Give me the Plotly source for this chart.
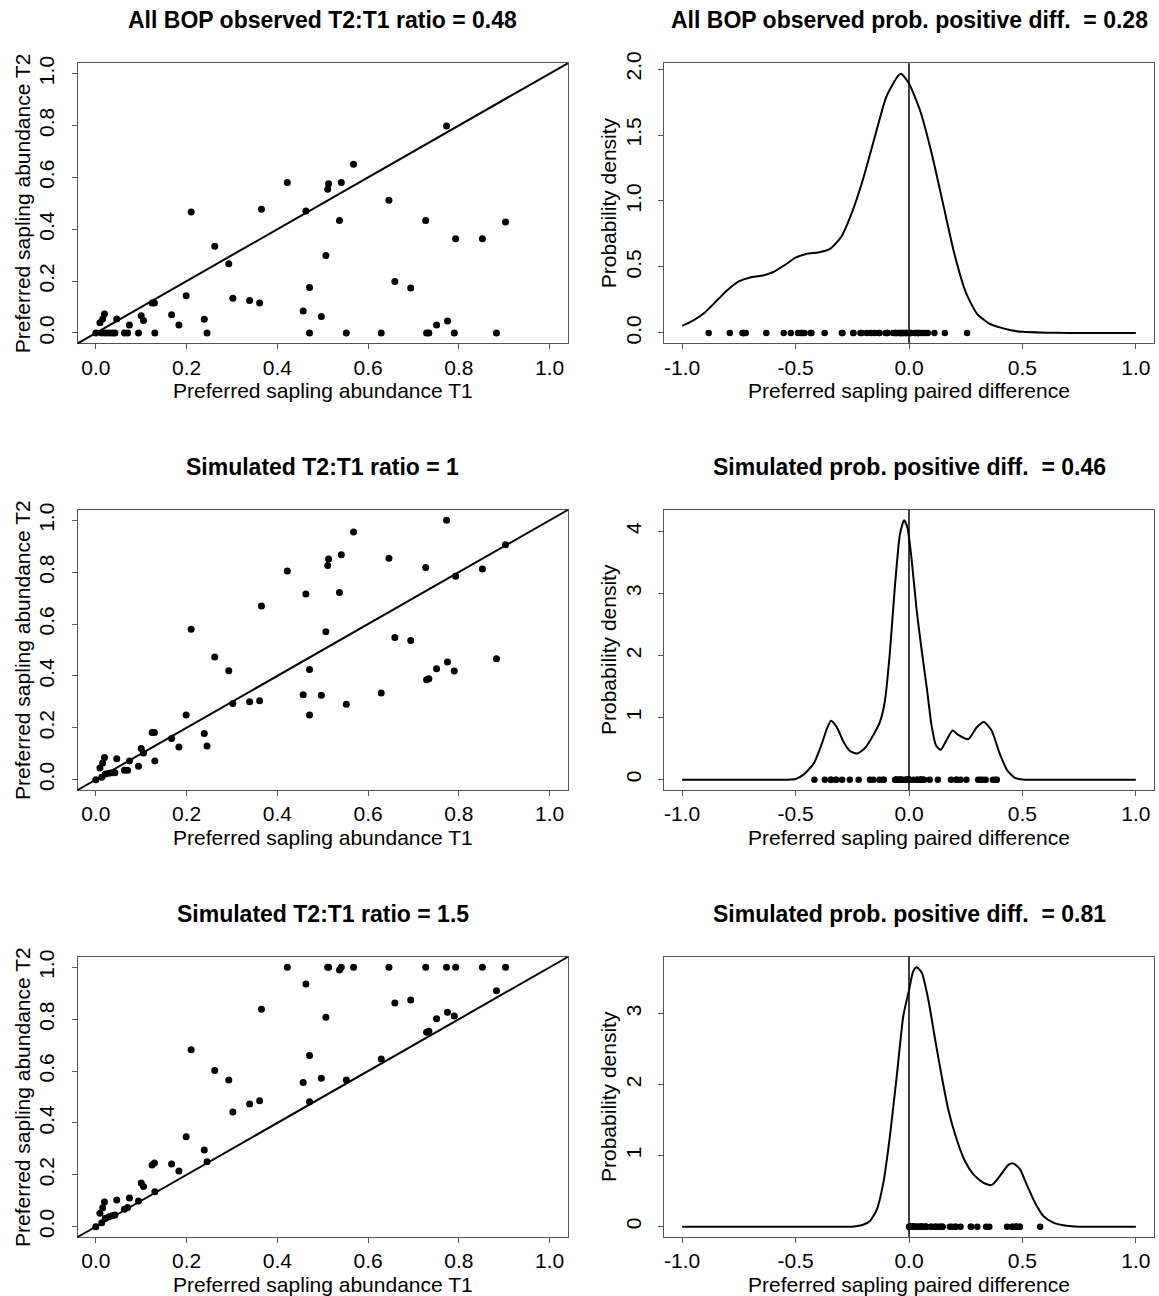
import plotly.graph_objects as go

W, H = 1159, 1296

# ---------------- data ----------------
t1 = [0.773, 0.568, 0.422, 0.541, 0.513, 0.511, 0.365, 0.210, 0.463, 0.646,
      0.727, 0.537, 0.903, 0.793, 0.852, 0.262, 0.507, 0.293, 0.659, 0.471,
      0.694, 0.199, 0.302, 0.339, 0.361, 0.124, 0.129, 0.457, 0.167, 0.497,
      0.239, 0.775, 0.183, 0.751, 0.074, 0.100, 0.105, 0.046, 0.019, 0.015,
      0.009,
      0.000, 0.013, 0.021, 0.029, 0.036, 0.042, 0.063, 0.070, 0.094, 0.130,
      0.245, 0.471, 0.552, 0.629, 0.729, 0.734, 0.790, 0.883]

t2_observed = [0.798, 0.651, 0.580, 0.580, 0.575, 0.554, 0.477, 0.466, 0.470, 0.512,
               0.434, 0.434, 0.428, 0.363, 0.363, 0.334, 0.299, 0.267, 0.198, 0.175,
               0.173, 0.143, 0.134, 0.125, 0.115, 0.115, 0.115, 0.085, 0.070, 0.063,
               0.053, 0.046, 0.031, 0.031, 0.031, 0.066, 0.048, 0.054, 0.073, 0.054,
               0.039,
               0, 0, 0, 0, 0, 0, 0, 0, 0, 0, 0, 0, 0, 0, 0, 0, 0, 0]

t2_sim_ratio1 = [1.000, 0.955, 0.805, 0.867, 0.851, 0.826, 0.670, 0.580, 0.716, 0.854,
                 0.818, 0.722, 0.906, 0.784, 0.812, 0.473, 0.570, 0.420, 0.548, 0.425,
                 0.537, 0.249, 0.294, 0.300, 0.304, 0.182, 0.182, 0.327, 0.159, 0.325,
                 0.178, 0.454, 0.126, 0.428, 0.072, 0.120, 0.103, 0.081, 0.085, 0.064,
                 0.045,
                 0.000, 0.009, 0.022, 0.025, 0.027, 0.027, 0.036, 0.036, 0.052, 0.072,
                 0.130, 0.249, 0.291, 0.334, 0.385, 0.389, 0.419, 0.466]

t2_sim_ratio15 = [1.000, 1.000, 1.000, 1.000, 1.000, 1.000, 0.838, 0.682, 0.936, 1.000,
                  1.000, 0.990, 1.000, 1.000, 1.000, 0.602, 0.808, 0.566, 0.863, 0.660,
                  0.874, 0.347, 0.442, 0.473, 0.486, 0.238, 0.245, 0.556, 0.242, 0.572,
                  0.296, 0.827, 0.215, 0.802, 0.110, 0.168, 0.155, 0.103, 0.095, 0.073,
                  0.052,
                  0.000, 0.015, 0.032, 0.038, 0.042, 0.045, 0.067, 0.074, 0.099, 0.135,
                  0.250, 0.482, 0.566, 0.647, 0.750, 0.754, 0.812, 0.910]

# density curves
dens1_x = [-1.0, -0.95, -0.9, -0.85, -0.8, -0.75, -0.7, -0.65, -0.6, -0.55, -0.5,
           -0.45, -0.4, -0.35, -0.3, -0.25, -0.2, -0.15, -0.1, -0.05, -0.035, 0.0,
           0.05, 0.1, 0.15, 0.2, 0.25, 0.3, 0.35, 0.4, 0.45, 0.5, 0.6, 0.7, 0.85, 1.0]
dens1_y = [0.053, 0.095, 0.155, 0.24, 0.325, 0.39, 0.42, 0.433, 0.46, 0.512, 0.57,
           0.60, 0.61, 0.635, 0.725, 0.92, 1.18, 1.49, 1.79, 1.945, 1.965, 1.89,
           1.68, 1.36, 0.98, 0.60, 0.31, 0.145, 0.075, 0.042, 0.02, 0.008, 0.002, 0.0, 0.0, 0.0]

dens2_x = [-1.0, -0.8, -0.6, -0.53, -0.5, -0.465, -0.42, -0.385, -0.363, -0.344,
           -0.319, -0.289, -0.26, -0.228, -0.194, -0.157, -0.128, -0.106, -0.084,
           -0.062, -0.04, -0.022, -0.007, 0.012, 0.034, 0.056, 0.078, 0.1, 0.119,
           0.14, 0.166, 0.192, 0.217, 0.261, 0.298, 0.33, 0.364, 0.4, 0.433, 0.467,
           0.5, 0.55, 0.7, 0.85, 1.0]
dens2_y = [0.0, 0.0, 0.0, 0.0, 0.01, 0.08, 0.26, 0.57, 0.81, 0.95,
           0.85, 0.61, 0.46, 0.42, 0.51, 0.72, 0.93, 1.27, 2.06,
           3.12, 3.95, 4.176, 4.06, 3.53, 2.72, 2.08, 1.49, 0.86, 0.55,
           0.48, 0.64, 0.79, 0.72, 0.65, 0.84, 0.93, 0.79, 0.42, 0.15, 0.03,
           0.003, 0.0, 0.0, 0.0, 0.0]

dens3_x = [-1.0, -0.8, -0.6, -0.4, -0.25, -0.2, -0.172, -0.142, -0.113, -0.084,
           -0.054, -0.025, 0.0, 0.019, 0.034, 0.056, 0.085, 0.115, 0.144, 0.173,
           0.21, 0.247, 0.283, 0.327, 0.364, 0.4, 0.438, 0.46, 0.489, 0.518,
           0.555, 0.592, 0.636, 0.68, 0.717, 0.75, 0.85, 1.0]
dens3_y = [0.0, 0.0, 0.0, 0.0, 0.0, 0.03, 0.08, 0.24, 0.62, 1.28,
           2.12, 2.97, 3.33, 3.60, 3.652, 3.58, 3.2, 2.64, 2.12, 1.65,
           1.23, 0.92, 0.74, 0.62, 0.585, 0.71, 0.87, 0.89, 0.81, 0.6,
           0.34, 0.15, 0.056, 0.019, 0.005, 0.0, 0.0, 0.0]

left_titles = ["All BOP observed T2:T1 ratio = 0.48",
               "Simulated T2:T1 ratio = 1",
               "Simulated T2:T1 ratio = 1.5"]
right_titles = ["All BOP observed prob. positive diff.  = 0.28",
                "Simulated prob. positive diff.  = 0.46",
                "Simulated prob. positive diff.  = 0.81"]

left_ticks = [0.0, 0.2, 0.4, 0.6, 0.8, 1.0]
left_ticktext = ["0.0", "0.2", "0.4", "0.6", "0.8", "1.0"]
diff_ticks = [-1.0, -0.5, 0.0, 0.5, 1.0]
diff_ticktext = ["-1.0", "-0.5", "0.0", "0.5", "1.0"]
dens_yticks = [[0.0, 0.5, 1.0, 1.5, 2.0], [0, 1, 2, 3, 4], [0, 1, 2, 3]]
dens_yticktext = [["0.0", "0.5", "1.0", "1.5", "2.0"], ["0", "1", "2", "3", "4"], ["0", "1", "2", "3"]]

xlab_left = "Preferred sapling abundance T1"
ylab_left = "Preferred sapling abundance T2"
xlab_right = "Preferred sapling paired difference"
ylab_right = "Probability density"

t2_sets = [t2_observed, t2_sim_ratio1, t2_sim_ratio15]
dens_sets = [(dens1_x, dens1_y), (dens2_x, dens2_y), (dens3_x, dens3_y)]

# ---------------- layout geometry (pixels) ----------------
FONT = "Liberation Sans, Arial, sans-serif"
LBOX = (77.7, 567.7)
RBOX = (664.0, 1154.0)
ROW_TOP = [63.3, 510.0, 957.0]
BOX_H = 280.0
ROW_STEP = 447.0


def pxx(p):
    return p / W


def pxy(p):
    return 1 - p / H


fig = go.Figure()
layout = dict(
    width=W, height=H,
    margin=dict(l=0, r=0, t=0, b=0, pad=0, autoexpand=False),
    paper_bgcolor="white", plot_bgcolor="white",
    showlegend=False,
    font=dict(family=FONT, size=21, color="black"),
)

axis_common = dict(
    showline=True, mirror=True, linecolor="#555555", linewidth=1,
    ticks="outside", ticklen=5, tickcolor="#555555", tickwidth=1,
    showgrid=False, zeroline=False, automargin=False,
    tickfont=dict(family=FONT, size=21, color="black"),
)

annotations = []
shapes = []

for r in range(3):
    top = ROW_TOP[r]
    ydom = [pxy(top + BOX_H), pxy(top)]
    li = 2 * r + 1
    ri = 2 * r + 2
    lx = "x" if li == 1 else f"x{li}"
    ly = "y" if li == 1 else f"y{li}"
    rx = f"x{ri}"
    ry = f"y{ri}"

    # ---- left scatter
    t2 = t2_sets[r]
    fig.add_trace(go.Scatter(x=t1, y=t2, mode="markers", xaxis=lx, yaxis=ly,
                             marker=dict(color="black", size=7), hoverinfo="skip"))
    layout["xaxis" if li == 1 else f"xaxis{li}"] = dict(
        axis_common, domain=[pxx(LBOX[0]), pxx(LBOX[1])], range=[-0.04, 1.04],
        tickvals=left_ticks, ticktext=left_ticktext, anchor=ly, ticklabelstandoff=0)
    layout["yaxis" if li == 1 else f"yaxis{li}"] = dict(
        axis_common, domain=ydom, range=[-0.04, 1.04],
        tickvals=left_ticks, ticktext=left_ticktext, anchor=lx, tickangle=-90,
        ticklabelstandoff=9)
    # 1:1 line across the plotting region
    shapes.append(dict(type="line", xref=f"{lx} domain", yref=f"{ly} domain",
                       x0=0, y0=0, x1=1, y1=1, line=dict(color="black", width=2)))

    # ---- right density
    dx, dy = dens_sets[r]
    diffs = [b - a for a, b in zip(t1, t2)]
    ymax = max(dy)
    fig.add_trace(go.Scatter(x=dx, y=dy, mode="lines", xaxis=rx, yaxis=ry,
                             line=dict(color="black", width=2, shape="spline", smoothing=0.6),
                             hoverinfo="skip"))
    fig.add_trace(go.Scatter(x=diffs, y=[0] * len(diffs), mode="markers", xaxis=rx, yaxis=ry,
                             marker=dict(color="black", size=6.5), hoverinfo="skip"))
    layout[f"xaxis{ri}"] = dict(
        axis_common, domain=[pxx(RBOX[0]), pxx(RBOX[1])], range=[-1.08, 1.08],
        tickvals=diff_ticks, ticktext=diff_ticktext, anchor=ry, ticklabelstandoff=0)
    layout[f"yaxis{ri}"] = dict(
        axis_common, domain=ydom, range=[-0.04 * ymax, 1.04 * ymax],
        tickvals=dens_yticks[r], ticktext=dens_yticktext[r], anchor=rx, tickangle=-90,
        ticklabelstandoff=9)
    shapes.append(dict(type="line", xref=rx, yref=f"{ry} domain",
                       x0=0, x1=0, y0=0, y1=1, line=dict(color="black", width=1.5)))

    # ---- titles and axis labels
    title_y = pxy(20 + r * ROW_STEP)
    xlab_y = pxy(390 + r * ROW_STEP)
    mid_y = pxy(top + BOX_H / 2)
    for (box, ttl, xl, yl, ylx) in [(LBOX, left_titles[r], xlab_left, ylab_left, 22),
                                     (RBOX, right_titles[r], xlab_right, ylab_right, 608)]:
        cx = pxx((box[0] + box[1]) / 2)
        annotations.append(dict(text="<b>" + ttl + "</b>", x=cx, y=title_y, xref="paper",
                                yref="paper", showarrow=False, xanchor="center",
                                yanchor="middle", font=dict(family=FONT, size=23, color="black")))
        annotations.append(dict(text=xl, x=cx, y=xlab_y, xref="paper", yref="paper",
                                showarrow=False, xanchor="center", yanchor="middle",
                                font=dict(family=FONT, size=21, color="black")))
        annotations.append(dict(text=yl, x=pxx(ylx), y=mid_y, xref="paper", yref="paper",
                                showarrow=False, xanchor="center", yanchor="middle",
                                textangle=-90, font=dict(family=FONT, size=21, color="black")))

layout["annotations"] = annotations
layout["shapes"] = shapes
fig.update_layout(**layout)

fig.write_html("out.html", config={"displayModeBar": False},
               post_script="document.body.style.margin='0';document.body.style.overflow='hidden';")
